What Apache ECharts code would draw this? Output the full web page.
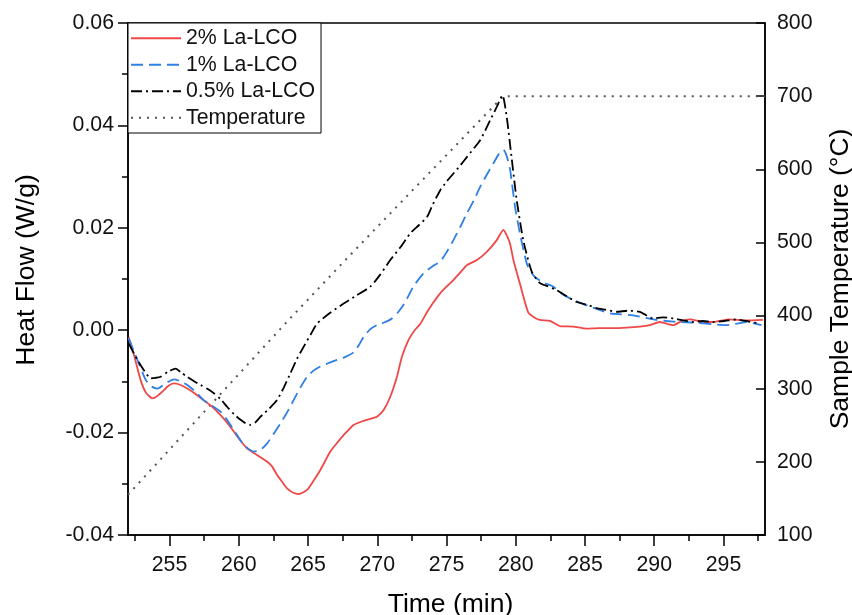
<!DOCTYPE html>
<html>
<head>
<meta charset="utf-8">
<script src="https://cdn.jsdelivr.net/npm/echarts@6/dist/echarts.min.js"></script>
<style>
html,body{margin:0;padding:0;background:#fff;}
#chart{width:852px;height:615px;}
</style>
</head>
<body>
<div id="chart"></div>
<script>
// ---- Data ----
const seriesNames = ['2% La-LCO', '1% La-LCO', '0.5% La-LCO', 'Temperature'];

const redTime = [252.05,252.4,252.92,253.3,253.76,254.1,254.48,254.9,255.32,255.8,256.28,256.9,257.48,258.1,258.68,259.2,259.64,260.1,260.61,261.33,262.05,262.4,262.77,263.15,263.49,263.9,264.33,264.93,265.4,265.89,266.61,267.1,267.57,268.29,269.01,269.5,269.98,270.46,270.94,271.42,271.78,272.26,272.7,273.1,273.59,274.0,274.54,275.0,275.5,276.0,276.47,277.19,277.91,278.63,279.11,279.3,279.59,279.83,280.31,280.9,281.4,281.75,282.47,283.19,284.15,285.12,286.0,287.04,288.0,288.96,289.7,290.41,291.37,292.0,292.57,293.4,294.25,295.45,296.6,297.85];
const redFlow = [-0.0014,-0.0045,-0.0098,-0.0122,-0.0133,-0.0129,-0.0120,-0.0109,-0.0104,-0.0107,-0.0114,-0.0125,-0.0137,-0.0150,-0.0166,-0.0182,-0.0198,-0.0215,-0.0231,-0.0244,-0.0257,-0.0266,-0.0283,-0.0297,-0.0309,-0.0317,-0.0320,-0.0312,-0.0294,-0.0273,-0.0237,-0.0220,-0.0205,-0.0185,-0.0177,-0.0173,-0.0169,-0.0156,-0.0130,-0.0091,-0.0052,-0.0019,0.0000,0.0012,0.0035,0.0052,0.0072,0.0085,0.0098,0.0113,0.0127,0.0137,0.0153,0.0176,0.0196,0.0188,0.0169,0.0137,0.0090,0.0035,0.0024,0.0020,0.0018,0.0008,0.0007,0.0003,0.0004,0.0004,0.0005,0.0007,0.0010,0.0016,0.0010,0.0018,0.0021,0.0017,0.0016,0.0021,0.0019,0.0020];

const blueTime = [252.05,252.68,253.28,253.7,254.12,254.7,255.32,255.8,256.28,256.9,257.48,258.1,258.68,259.2,259.64,260.36,261.08,261.56,262.05,262.5,263.01,263.5,263.97,264.45,264.93,265.4,265.89,266.5,267.1,267.7,268.29,268.7,269.01,269.5,269.98,270.5,271.06,271.5,272.02,272.6,273.34,274.0,274.54,275.0,275.5,276.0,276.47,277.0,277.43,277.9,278.39,278.8,279.11,279.35,279.59,279.95,280.31,280.8,281.2,281.52,282.1,282.71,283.43,284.15,285.36,286.0,286.8,287.6,288.48,289.92,290.9,291.85,292.8,293.77,294.5,295.21,296.0,296.65,297.74];
const blueFlow = [-0.0016,-0.0058,-0.0097,-0.0110,-0.0114,-0.0104,-0.0096,-0.0100,-0.0107,-0.0121,-0.0137,-0.0148,-0.0159,-0.0177,-0.0195,-0.0224,-0.0237,-0.0234,-0.0221,-0.0203,-0.0182,-0.0160,-0.0136,-0.0112,-0.0091,-0.0079,-0.0071,-0.0064,-0.0058,-0.0052,-0.0043,-0.0028,-0.0013,0.0002,0.0010,0.0015,0.0023,0.0035,0.0055,0.0085,0.0111,0.0125,0.0134,0.0152,0.0176,0.0202,0.0228,0.0255,0.0280,0.0303,0.0326,0.0345,0.0352,0.0340,0.0314,0.0241,0.0188,0.0130,0.0110,0.0101,0.0092,0.0085,0.0069,0.0059,0.0046,0.0040,0.0033,0.0031,0.0029,0.0021,0.0018,0.0016,0.0015,0.0013,0.0011,0.0010,0.0013,0.0016,0.0010];

const blackTime = [252.05,252.68,253.2,253.64,254.0,254.36,254.9,255.44,255.85,256.28,256.8,257.24,257.7,258.2,258.7,259.17,259.65,260.13,260.5,260.85,261.2,261.57,262.2,262.77,263.25,263.73,264.2,264.69,265.2,265.66,266.6,267.57,268.5,269.5,270.2,270.94,271.7,272.38,273.0,273.59,274.0,274.54,275.0,275.5,276.0,276.47,277.0,277.43,277.8,278.15,278.63,279.04,279.35,279.71,280.07,280.55,281.16,281.75,282.3,282.96,283.7,284.4,285.24,285.84,286.5,287.29,288.1,288.96,289.92,290.6,291.37,292.1,292.81,293.5,294.25,295.1,295.94,296.8,297.62];
const blackFlow = [-0.0026,-0.0058,-0.0080,-0.0094,-0.0093,-0.0091,-0.0081,-0.0075,-0.0083,-0.0091,-0.0100,-0.0107,-0.0114,-0.0123,-0.0135,-0.0150,-0.0164,-0.0175,-0.0182,-0.0185,-0.0180,-0.0169,-0.0153,-0.0136,-0.0112,-0.0084,-0.0056,-0.0032,-0.0008,0.0013,0.0034,0.0052,0.0068,0.0085,0.0108,0.0137,0.0163,0.0189,0.0205,0.0221,0.0245,0.0273,0.0290,0.0306,0.0322,0.0338,0.0356,0.0371,0.0390,0.0410,0.0436,0.0459,0.0416,0.0335,0.0254,0.0175,0.0114,0.0092,0.0086,0.0078,0.0066,0.0055,0.0049,0.0043,0.0040,0.0036,0.0038,0.0036,0.0023,0.0025,0.0023,0.0019,0.0016,0.0018,0.0016,0.0018,0.0021,0.0017,0.0013];

const tempTime = [252.0, 263.5, 267.7, 279.1, 298.0];
const tempValue = [155, 392, 476, 700, 700];

const xMajorTicks = [255,260,265,270,275,280,285,290,295];
const xMinorTicks = [252.5,257.5,262.5,267.5,272.5,277.5,282.5,287.5,292.5,297.5];

// ---- Build chart ----
const pair = (xs, ys) => xs.map((x, i) => [x, ys[i]]);
const FONT = 'Arial, "Liberation Sans", sans-serif';
const chart = echarts.init(document.getElementById('chart'), null, {renderer: 'canvas'});

const tickLine = {color: '#000', width: 1.5};
const titleStyle = {fontFamily: FONT, fontSize: 26.5, color: '#000'};
const option = {
  backgroundColor: '#ffffff',
  animation: false,
  grid: {left: 128, right: 87, top: 23, bottom: 80, outerBoundsMode: 'none', containLabel: false,
         show: true, borderColor: '#000', borderWidth: 1.5, backgroundColor: 'transparent'},
  legend: {
    data: seriesNames,
    orient: 'vertical',
    left: 128, top: 23,
    itemWidth: 50, itemHeight: 14, itemGap: 4,
    padding: [4, 6, 4, 2],
    borderColor: '#000', borderWidth: 1, backgroundColor: '#fff',
    itemStyle: {opacity: 0},
    textStyle: {fontFamily: FONT, fontSize: 21.3, color: '#111', lineHeight: 22.5}
  },
  xAxis: [{
    type: 'value', min: 252, max: 298, position: 'bottom',
    name: 'Time (min)', nameLocation: 'middle', nameGap: 56,
    nameTextStyle: Object.assign({padding: [0, 0, 0, 8]}, titleStyle),
    axisLine: {show: true, onZero: false, lineStyle: tickLine},
    axisTick: {show: false},
    axisLabel: {customValues: xMajorTicks, fontFamily: FONT, fontSize: 21.3, color: '#111', margin: 20},
    splitLine: {show: false}
  }, {
    type: 'value', min: 252, max: 298, position: 'bottom',
    axisLine: {show: false, onZero: false},
    axisTick: {show: true, customValues: xMinorTicks, length: 6, lineStyle: tickLine},
    axisLabel: {show: false},
    splitLine: {show: false}
  }, {
    type: 'value', min: 252, max: 298, position: 'bottom',
    axisLine: {show: false, onZero: false},
    axisTick: {show: true, customValues: xMajorTicks, length: 11, lineStyle: tickLine},
    axisLabel: {show: false},
    splitLine: {show: false}
  }],
  yAxis: [{
    type: 'value', min: -0.04, max: 0.06, interval: 0.02, position: 'left',
    name: 'Heat Flow (W/g)', nameLocation: 'middle', nameGap: 88,
    nameTextStyle: Object.assign({padding: [0, 0, 0, 18]}, titleStyle),
    axisLine: {show: true, onZero: false, lineStyle: tickLine},
    axisTick: {show: true, length: 10, lineStyle: tickLine},
    minorTick: {show: true, splitNumber: 2, length: 6, lineStyle: tickLine},
    axisLabel: {fontFamily: FONT, fontSize: 21.3, color: '#111', margin: 14, formatter: v => v.toFixed(2)},
    splitLine: {show: false}
  }, {
    type: 'value', min: 100, max: 800, interval: 100, position: 'right',
    name: 'Sample Temperature (°C)', nameLocation: 'middle', nameGap: 62,
    nameTextStyle: titleStyle,
    axisLine: {show: true, lineStyle: tickLine},
    axisTick: {show: true, inside: true, length: 9, lineStyle: tickLine},
    axisLabel: {fontFamily: FONT, fontSize: 21.3, color: '#111', margin: 12},
    splitLine: {show: false}
  }],
  series: [{
    name: seriesNames[0], type: 'line', xAxisIndex: 0, yAxisIndex: 0,
    data: pair(redTime, redFlow), showSymbol: false, symbol: 'none', smooth: 0.2,
    itemStyle: {color: '#F04848'},
    lineStyle: {color: '#F04848', width: 1.8, type: 'solid'}, z: 3
  }, {
    name: seriesNames[1], type: 'line', xAxisIndex: 0, yAxisIndex: 0,
    data: pair(blueTime, blueFlow), showSymbol: false, symbol: 'none', smooth: 0.2,
    itemStyle: {color: '#2E7FE6'},
    lineStyle: {color: '#2E7FE6', width: 1.8, type: [12, 6]}, z: 4
  }, {
    name: seriesNames[2], type: 'line', xAxisIndex: 0, yAxisIndex: 0,
    data: pair(blackTime, blackFlow), showSymbol: false, symbol: 'none', smooth: 0.2,
    itemStyle: {color: '#000'},
    lineStyle: {color: '#000', width: 1.8, type: [11, 4, 2, 4]}, z: 5
  }, {
    name: seriesNames[3], type: 'line', xAxisIndex: 0, yAxisIndex: 1,
    data: pair(tempTime, tempValue), showSymbol: false, symbol: 'none',
    itemStyle: {color: '#555'},
    lineStyle: {color: '#555', width: 2, type: [2, 6]}, z: 2
  }]
};
chart.setOption(option);
</script>
</body>
</html>
